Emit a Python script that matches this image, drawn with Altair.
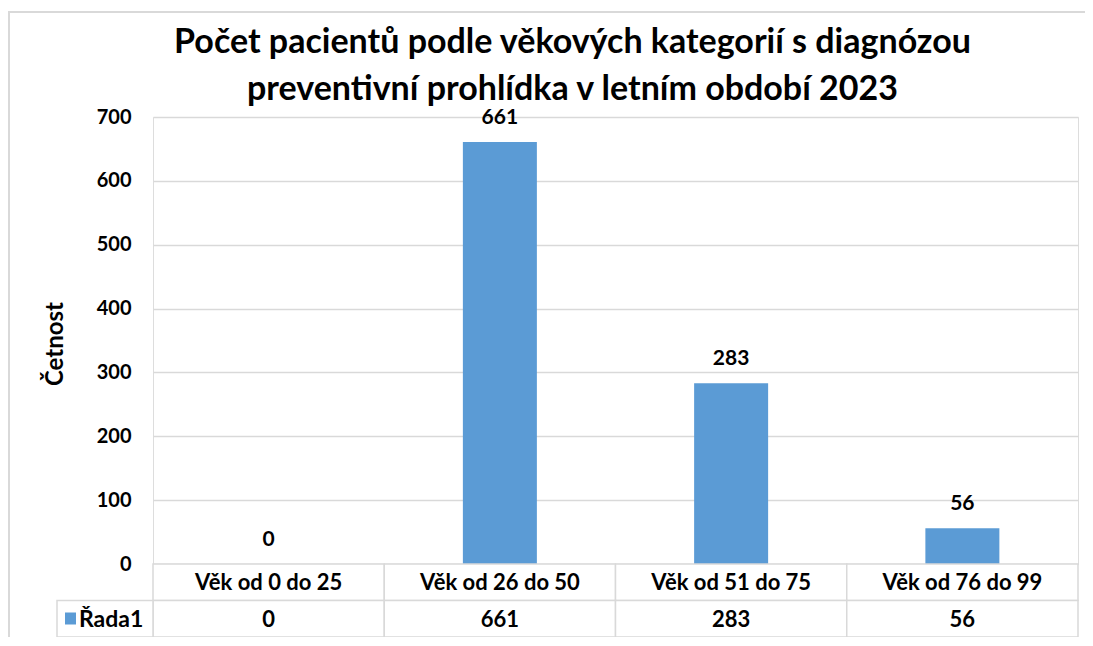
import altair as alt
import pandas as pd

categories = ["Věk od 0 do 25", "Věk od 26 do 50", "Věk od 51 do 75", "Věk od 76 do 99"]
values = [0, 661, 283, 56]
series_name = "Řada1"
title_lines = ["Počet pacientů podle věkových kategorií s diagnózou",
               "preventivní prohlídka v letním období 2023"]
y_title = "Četnost"
y_ticks = [0, 100, 200, 300, 400, 500, 600, 700]

df = pd.DataFrame({"cat": categories, "val": values})
legend_df = pd.DataFrame({"s": [series_name]})

W, H = 925, 447
ROW = 36.5
FONT = "Lato"
BLUE = "#5B9BD5"
GRID = "#D9D9D9"
TXT = 22

x_bar = alt.X("cat:N", sort=categories, axis=None,
              scale=alt.Scale(paddingInner=0.68, paddingOuter=0.34))
x_tab = alt.X("cat:N", sort=categories, axis=None,
              scale=alt.Scale(paddingInner=0, paddingOuter=0))
y_bar = alt.Y("val:Q", scale=alt.Scale(domain=[0, 700], nice=False),
              axis=alt.Axis(values=y_ticks, title=y_title, grid=True, gridColor=GRID,
                            gridWidth=1.5, domain=False, ticks=False,
                            labelFont=FONT, labelFontSize=20, labelFontWeight="bold",
                            labelColor="black", labelPadding=22,
                            titleFont=FONT, titleFontSize=24, titleFontWeight="bold",
                            titleColor="black", titleX=-98, titleY=H / 2 + 3,
                            titleAngle=-90, titleAlign="center", titleBaseline="middle"))

border = alt.Chart(legend_df).mark_rect(filled=False, stroke=GRID, strokeWidth=2).encode(
    x=alt.value(-144), x2=alt.value(W + 30), y=alt.value(-105), y2=alt.value(H + 200))

title = alt.Chart(legend_df).mark_text(text=title_lines, font=FONT, fontSize=34,
                                       fontWeight="bold", color="black", lineHeight=47,
                                       baseline="middle", align="center").encode(
    x=alt.value(W / 2 - 43), y=alt.value(-74))

bars = alt.Chart(df).mark_bar(color=BLUE).encode(x=x_bar, y=y_bar)
labels = alt.Chart(df).mark_text(dy=-24, font=FONT, fontSize=21, fontWeight="bold",
                                 color="black", baseline="middle").encode(
    x=x_bar, y=alt.Y("val:Q"), text="val:Q")

head_cells = alt.Chart(df).mark_rect(fill="white", stroke=GRID, strokeWidth=1.5).encode(
    x=x_tab, y=alt.value(H), y2=alt.value(H + ROW))
val_cells = alt.Chart(df).mark_rect(fill="white", stroke=GRID, strokeWidth=1.5).encode(
    x=x_tab, y=alt.value(H + ROW), y2=alt.value(H + 2 * ROW))
head_text = alt.Chart(df).mark_text(font=FONT, fontSize=TXT, fontWeight="bold",
                                    color="black", baseline="middle").encode(
    x=x_tab, y=alt.value(H + ROW / 2 + 1), text="cat:N")
val_text = alt.Chart(df).mark_text(font=FONT, fontSize=TXT, fontWeight="bold",
                                   color="black", baseline="middle").encode(
    x=x_tab, y=alt.value(H + 1.5 * ROW + 1), text="val:Q")

leg_cell = alt.Chart(legend_df).mark_rect(fill="white", stroke=GRID, strokeWidth=1.5).encode(
    x=alt.value(-96), x2=alt.value(0), y=alt.value(H + ROW), y2=alt.value(H + 2 * ROW))
leg_sw = alt.Chart(legend_df).mark_rect(color=BLUE).encode(
    x=alt.value(-88), x2=alt.value(-77), y=alt.value(H + ROW + 12), y2=alt.value(H + ROW + 24))
leg_text = alt.Chart(legend_df).mark_text(font=FONT, fontSize=23, fontWeight="bold",
                                          color="black", baseline="middle", align="left").encode(
    x=alt.value(-74), y=alt.value(H + 1.5 * ROW + 1), text="s:N")

chart = alt.layer(border, title, bars, labels, head_cells, val_cells, head_text, val_text,
                  leg_cell, leg_sw, leg_text).resolve_scale(x="independent").properties(
    width=W, height=H,
    autosize=alt.AutoSizeParams(type="none"),
    padding={"left": 145, "top": 109, "right": 7, "bottom": 73},
).configure_view(stroke=None).configure(background="white")

chart.save("out.html", embed_options={"renderer": "svg", "actions": False})
